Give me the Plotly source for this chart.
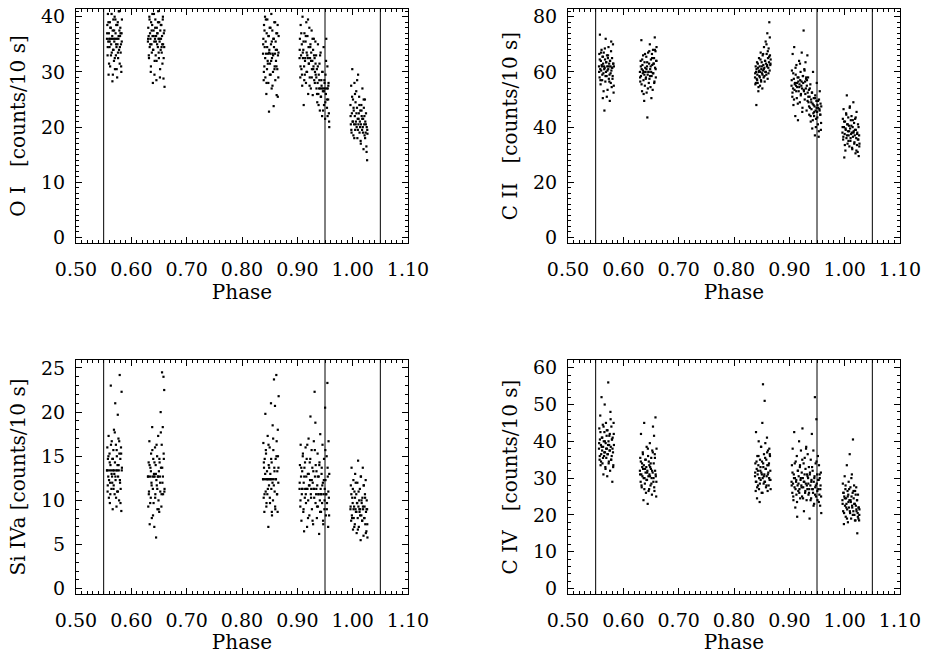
import plotly.graph_objects as go
from plotly.subplots import make_subplots

# phases of the five observing windows (shared by all four lines)
PH_A = [0.5560, 0.5566, 0.5571, 0.5577, 0.5583, 0.5589, 0.5594, 0.5600, 0.5606, 0.5612, 0.5617, 0.5623,
        0.5629, 0.5635, 0.5640, 0.5646, 0.5652, 0.5658, 0.5663, 0.5669, 0.5675, 0.5681, 0.5686, 0.5692,
        0.5698, 0.5704, 0.5709, 0.5715, 0.5721, 0.5727, 0.5732, 0.5738, 0.5744, 0.5750, 0.5755, 0.5761,
        0.5767, 0.5773, 0.5778, 0.5784, 0.5790, 0.5796, 0.5801, 0.5807, 0.5813, 0.5819, 0.5824, 0.5830,
        0.5563, 0.5574, 0.5586, 0.5597, 0.5609, 0.5620, 0.5632, 0.5643, 0.5655, 0.5666, 0.5678, 0.5689,
        0.5701, 0.5712, 0.5724, 0.5735, 0.5747, 0.5758, 0.5770, 0.5781, 0.5793, 0.5804, 0.5816, 0.5827]
PH_B = [0.6300, 0.6306, 0.6313, 0.6319, 0.6326, 0.6332, 0.6338, 0.6345, 0.6351, 0.6357, 0.6364, 0.6370,
        0.6377, 0.6383, 0.6389, 0.6396, 0.6402, 0.6409, 0.6415, 0.6421, 0.6428, 0.6434, 0.6440, 0.6447,
        0.6453, 0.6460, 0.6466, 0.6472, 0.6479, 0.6485, 0.6491, 0.6498, 0.6504, 0.6511, 0.6517, 0.6523,
        0.6530, 0.6536, 0.6543, 0.6549, 0.6555, 0.6562, 0.6568, 0.6574, 0.6581, 0.6587, 0.6594, 0.6600,
        0.6303, 0.6316, 0.6329, 0.6341, 0.6354, 0.6367, 0.6380, 0.6392, 0.6405, 0.6418, 0.6431, 0.6443,
        0.6456, 0.6469, 0.6482, 0.6494, 0.6507, 0.6520, 0.6533, 0.6546, 0.6558, 0.6571, 0.6584, 0.6597]
PH_C = [0.8380, 0.8386, 0.8392, 0.8398, 0.8404, 0.8410, 0.8416, 0.8422, 0.8428, 0.8434, 0.8440, 0.8446,
        0.8452, 0.8458, 0.8464, 0.8470, 0.8476, 0.8482, 0.8488, 0.8494, 0.8500, 0.8506, 0.8512, 0.8518,
        0.8524, 0.8530, 0.8536, 0.8542, 0.8548, 0.8554, 0.8560, 0.8566, 0.8572, 0.8578, 0.8584, 0.8590,
        0.8596, 0.8602, 0.8608, 0.8614, 0.8620, 0.8626, 0.8632, 0.8638, 0.8644, 0.8650, 0.8656, 0.8662,
        0.8383, 0.8395, 0.8407, 0.8419, 0.8431, 0.8443, 0.8455, 0.8467, 0.8479, 0.8491, 0.8503, 0.8515,
        0.8527, 0.8539, 0.8551, 0.8563, 0.8575, 0.8587, 0.8599, 0.8611, 0.8623, 0.8635, 0.8647, 0.8659]
PH_D = [0.9040, 0.9047, 0.9054, 0.9060, 0.9067, 0.9074, 0.9081, 0.9088, 0.9094, 0.9101,
        0.9108, 0.9115, 0.9122, 0.9128, 0.9135, 0.9142, 0.9149, 0.9156, 0.9162, 0.9169,
        0.9176, 0.9183, 0.9190, 0.9196, 0.9203, 0.9210, 0.9217, 0.9224, 0.9230, 0.9237,
        0.9244, 0.9251, 0.9258, 0.9264, 0.9271, 0.9278, 0.9285, 0.9292, 0.9298, 0.9305,
        0.9312, 0.9319, 0.9326, 0.9332, 0.9339, 0.9346, 0.9353, 0.9360, 0.9366, 0.9373,
        0.9380, 0.9387, 0.9394, 0.9400, 0.9407, 0.9414, 0.9421, 0.9428, 0.9434, 0.9441,
        0.9448, 0.9455, 0.9462, 0.9468, 0.9475, 0.9482, 0.9489, 0.9496, 0.9502, 0.9509,
        0.9516, 0.9523, 0.9530, 0.9536, 0.9543, 0.9550, 0.9557, 0.9564, 0.9570, 0.9577,
        0.9043, 0.9057, 0.9071, 0.9084, 0.9098, 0.9112, 0.9125, 0.9139, 0.9153, 0.9166, 0.9180,
        0.9193, 0.9207, 0.9221, 0.9234, 0.9248, 0.9261, 0.9275, 0.9289, 0.9302, 0.9316, 0.9329,
        0.9343, 0.9356, 0.9370, 0.9384, 0.9397, 0.9411, 0.9424, 0.9438, 0.9451, 0.9465,
        0.9479, 0.9492, 0.9506, 0.9519, 0.9533, 0.9547, 0.9560, 0.9574]
PH_E = [0.9960, 0.9967, 0.9973, 0.9980, 0.9986, 0.9993, 1.0000, 1.0006, 1.0013, 1.0019,
        1.0026, 1.0032, 1.0039, 1.0045, 1.0052, 1.0059, 1.0065, 1.0072, 1.0078, 1.0085,
        1.0091, 1.0098, 1.0104, 1.0111, 1.0117, 1.0124, 1.0130, 1.0137, 1.0144, 1.0150,
        1.0157, 1.0163, 1.0170, 1.0176, 1.0183, 1.0189, 1.0196, 1.0202, 1.0209, 1.0215,
        1.0222, 1.0228, 1.0235, 1.0241, 1.0248, 1.0254, 1.0261, 1.0267,
        0.9963, 0.9976, 0.9990, 1.0003, 1.0016, 1.0029, 1.0042, 1.0055, 1.0068, 1.0081, 1.0094, 1.0107,
        1.0121, 1.0134, 1.0147, 1.0160, 1.0173, 1.0186, 1.0199, 1.0212, 1.0225, 1.0238, 1.0251, 1.0264]

# O I count rates [counts/10 s]
OI_A = [36, 38.5, 33, 40.5, 35.5, 29.5, 37, 36, 34.5, 39, 31, 36, 38, 35, 42, 33.5,
        36, 28.3, 37.5, 34, 39.5, 36, 32, 35.5, 40, 30.5, 36, 37, 33, 38.5, 34.5, 36,
        29, 35, 39, 32.5, 36, 41, 34, 37.5, 31.5, 36.5, 38, 33.5, 35, 30, 37, 39.5,
        37, 34.5, 39, 31.5, 35.5, 38, 33, 40.5, 36.5, 29.5, 34, 37.5, 32.5, 39.5, 35, 30.5,
        38.5, 33.5, 36.5, 41, 34.5, 37, 31, 35.5]
OI_B = [35.5, 38, 36.5, 32.5, 40, 34.5, 37, 36, 30, 39, 35, 33.5, 38.5, 36.5, 28, 34,
        37.5, 40.5, 35.5, 32, 36, 39.5, 33, 36.5, 28.5, 38, 35, 37, 34.5, 41, 36, 32.5,
        39, 35.5, 29, 37.5, 34, 36, 38.5, 33.5, 36.5, 31.5, 39.5, 35, 28.8, 37, 34.5, 27.3,
        36, 33, 39.5, 35, 31, 37.5, 40.5, 34, 36.5, 29.5, 38, 35.5, 32, 37, 39, 33.5,
        36, 30.5, 38.5, 34.5, 35, 40, 32.5, 37.5]
OI_C = [33.3, 36, 28.5, 38.5, 31, 34.5, 40, 29, 35.5, 33.3, 26, 37, 30.5, 39.5, 32, 33.3,
        28, 36.5, 22.8, 34, 38, 31.5, 33.3, 29.5, 35, 40.5, 27, 32.5, 37.5, 33.3, 30, 36,
        23.8, 34.5, 39, 31, 33.3, 28.5, 35.5, 32, 37, 25.8, 34, 30.5, 38.5, 33, 29, 36.5,
        35, 30, 37.5, 32.5, 39.5, 28, 34.5, 31.5, 36.5, 33.5, 29.5, 38, 32, 35.5, 27.5, 33,
        36, 30.5, 39, 34, 31, 37, 25.5, 33.5]
OI_D = [32.5, 36, 29, 38.5, 33, 30.5, 35, 27.5, 40, 32.5, 34, 24, 31, 37, 29.5, 32.5,
        35.5, 28, 39, 33.5, 30, 36.5, 32.5, 26, 34.5, 31.5, 38, 29, 32.5, 35, 27, 33.5,
        37.5, 30.5, 32, 25.8, 34, 31, 36, 28.5, 32.5, 30, 35.5, 29.5,
        33, 27, 30.5, 24.5, 28, 35, 26, 29.5, 27, 31.5, 23, 27, 33.5, 25.5, 28.5, 27,
        22, 30, 26.5, 27, 34.5, 24, 28.5, 27, 21.5, 29.5, 26, 36, 27, 23.5, 31, 27,
        25, 28, 22.5, 20,
        34, 31, 37, 29.5, 33.5, 35.5, 28.5, 32, 36.5, 30, 33, 39.5, 31.5, 27.5, 34.5, 32,
        29, 36, 30.5, 33, 28, 31.5,
        29, 26, 31, 24, 28.5, 33, 25.5, 27.5, 30, 23, 26.5, 28, 24.5, 32, 25, 22, 27.5, 21]
OI_E = [24, 20.5, 27.5, 19, 22.5, 30.5, 21, 25, 18.5, 23, 20.5, 28, 22, 19.5, 24.5, 21,
        26.5, 20, 23.5, 18, 21.5, 29.5, 20.5, 22.5, 25.5, 19, 21, 23, 17.5, 20.5, 24, 22,
        19.5, 27, 20, 21.5, 16, 23.5, 20.5, 18.5, 25, 21, 19, 22.5, 16.5, 20, 14, 18.8,
        22, 19.5, 25.5, 21, 23.5, 18, 26, 20.5, 22.5, 28.5, 19.5, 21.5, 24, 20, 17, 23,
        21.5, 19, 25, 22, 18, 20.5, 15.5, 19.5]

# C II
CII_A = [62, 66.5, 58, 73.5, 61, 55.5, 64, 60.5, 68, 62, 57, 65.5, 50.5, 63, 59.5, 67,
         62, 46, 61.5, 64.5, 56.5, 72, 60, 63.5, 58.5, 66, 62, 53.5, 65, 61, 69, 57.5,
         63, 59, 49.5, 64, 62, 56, 67.5, 60.5, 54.5, 65, 61.5, 58.5, 70, 63, 52.5, 62,
         60, 64.5, 57, 67, 62.5, 59, 65.5, 53, 61, 68.5, 58.5, 63.5, 51, 60.5, 66, 62,
         56.5, 64, 59.5, 71, 61.5, 57.5, 63, 55]
CII_B = [60, 56.5, 64, 58.5, 71.5, 61, 53, 62.5, 59.5, 66, 57, 60, 49.5, 63.5, 55, 61.5,
         60, 58, 65.5, 52.5, 62, 43.5, 59, 67, 60, 56, 63, 57.5, 70, 61, 54.5, 64.5,
         60, 58.5, 66.5, 62.5, 53.5, 68, 59.5, 63, 65, 56.5, 72.5, 61.5, 67.5, 58, 64, 69,
         58, 62, 55.5, 64.5, 60.5, 52, 59, 66.5, 57.5, 61, 63.5, 54, 60, 67.5, 58.5, 62,
         50.5, 65, 59.5, 63, 56, 68, 61, 64]
CII_C = [58, 55.5, 62, 60, 48, 57.5, 63.5, 59, 56, 61.5, 53, 60, 65, 58.5, 62, 55,
         60, 67, 57, 61, 63.5, 59.5, 54, 66, 60.5, 62.5, 58, 69, 61.5, 56.5, 64, 60,
         71, 63, 59, 66.5, 62, 74, 57.5, 65, 61.5, 68.5, 63.5, 78, 60.5, 66, 62.5, 64.5,
         59.5, 56, 61, 57, 63, 54.5, 60.5, 58, 64.5, 56.5, 62, 59, 66.5, 61, 58.5, 64,
         60, 70, 62.5, 67.5, 59.5, 65.5, 72.5, 63]
CII_D = [55, 60.5, 51, 66.5, 54, 48, 57.5, 69, 53.5, 56, 44, 59, 55, 62.5, 50.5, 54.5,
         58, 42.5, 56.5, 53, 64, 55.5, 49, 57, 60, 52, 55, 67, 54, 47, 58.5, 56,
         75, 53, 61, 50, 56.5, 63.5, 54, 58, 46, 57, 66, 52.5,
         58, 49, 53.5, 44.5, 51, 47, 55.5, 42, 50, 46.5, 52.5, 39.5, 48.5, 60, 45, 50.5,
         44, 47.5, 37, 51.5, 46, 43, 49.5, 56, 45.5, 48, 41, 47, 36.5, 50, 46.5, 53,
         44.5, 48.5, 39, 47.5,
         57, 52.5, 59.5, 50, 55.5, 61.5, 53, 56, 48.5, 58, 54.5, 63, 51.5, 56.5, 45.5, 58.5,
         53.5, 60.5, 52, 57.5, 55, 49.5,
         51, 47.5, 54, 44, 49, 52.5, 42.5, 48, 45.5, 50.5, 40, 47, 43.5, 49.5, 38.5, 46, 44.5, 41.5]
CII_E = [38, 43, 35.5, 46.5, 40, 29, 37.5, 42, 31.5, 39, 45, 36, 51.5, 41, 34, 38.5,
         43.5, 37, 40.5, 33, 47, 39.5, 35, 42.5, 37.5, 44, 38, 32, 40, 36.5, 49, 38.5,
         41.5, 34.5, 37, 43, 30.5, 39, 36, 45.5, 33.5, 38, 31, 41, 35.5, 29.5, 37, 34,
         40, 36.5, 42, 33.5, 39.5, 44.5, 37, 41, 35, 38.5, 47.5, 36, 40.5, 32.5, 42.5, 38,
         34, 39, 43.5, 31.5, 37.5, 35.5, 40, 33]

# Si IVa
SI_A = [13.4, 16.0, 11.0, 14.7, 12.7, 17.3, 10.3, 13.4, 15.3, 9.7, 12.0, 14.0, 23.0, 13.4, 11.3, 16.7,
        12.7, 14.7, 9.0, 13.4, 15.7, 11.7, 18.0, 13.0, 10.7, 14.3, 21.0, 12.3, 16.3, 13.4, 9.3, 15.0,
        11.0, 14.0, 19.7, 12.7, 17.0, 13.4, 10.0, 15.3, 24.2, 12.0, 14.7, 11.3, 16.0, 8.8, 22.3, 13.7,
        13.4, 11.7, 15.0, 12.3, 14.3, 10.7, 16.3, 13.0, 12.0, 14.7, 11.3, 13.4, 17.7, 12.7, 10.3, 15.7,
        13.4, 11.0, 14.0, 16.7, 12.3, 9.7, 15.3, 13.4]
SI_B = [12.7, 9.3, 14.3, 11.0, 16.7, 7.3, 12.7, 13.7, 10.3, 15.3, 12.0, 8.0, 18.3, 12.7, 11.3, 14.7,
        9.7, 13.0, 7.0, 12.7, 16.0, 10.7, 14.0, 5.8, 12.3, 11.7, 15.0, 9.0, 12.7, 17.3, 10.0, 13.3,
        8.7, 14.3, 12.7, 11.0, 20.0, 13.7, 9.3, 16.3, 24.5, 12.0, 18.3, 10.7, 24.0, 14.7, 22.5, 11.3,
        12.7, 10.7, 14.0, 9.7, 13.3, 11.7, 15.7, 8.3, 12.7, 14.3, 10.3, 13.0, 16.3, 11.3, 12.7, 9.0,
        14.7, 12.0, 17.7, 10.7, 13.7, 12.7, 15.3, 11.0]
SI_C = [12.4, 16.5, 10.3, 13.7, 8.7, 14.7, 12.4, 19.8, 11.0, 15.3, 9.3, 12.4, 13.3, 10.7, 17.3, 12.4,
        7.0, 14.0, 11.7, 12.4, 16.0, 9.7, 13.0, 12.4, 21.0, 11.3, 14.3, 8.3, 12.4, 18.5, 10.0, 15.7,
        12.4, 23.7, 13.7, 11.0, 20.7, 9.0, 14.7, 12.4, 24.2, 16.7, 10.7, 13.3, 8.7, 15.0, 12.0, 21.8,
        12.4, 14.3, 10.7, 13.0, 15.7, 9.7, 12.4, 11.3, 16.3, 13.7, 10.3, 12.4, 14.7, 8.7, 12.0, 17.0,
        11.7, 13.3, 9.3, 12.4, 15.0, 10.7, 18.0, 13.7]
SI_D = [11.3, 14.0, 9.3, 16.3, 12.7, 7.7, 10.7, 13.3, 11.3, 15.3, 8.7, 12.0, 6.5, 13.7, 10.3, 11.3,
        16.0, 9.7, 12.7, 14.7, 7.0, 11.3, 13.0, 10.0, 17.0, 11.7, 8.3, 14.3, 12.3, 19.5, 10.7, 11.3,
        15.7, 9.0, 13.7, 12.0, 7.3, 11.3, 16.7, 10.3, 22.3, 12.7, 18.8, 14.0,
        10.7, 13.3, 8.0, 11.7, 15.3, 9.3, 10.7, 12.7, 6.2, 14.3, 10.0, 17.5, 11.3, 8.7, 10.7, 13.7,
        9.7, 16.3, 12.0, 7.3, 10.7, 14.7, 9.0, 11.3, 20.5, 12.3, 8.3, 10.7, 15.0, 9.7, 23.3, 12.7,
        7.0, 16.7, 10.3, 13.0,
        12.0, 10.0, 13.7, 11.3, 15.0, 9.0, 12.7, 14.3, 10.7, 11.3, 16.3, 8.0, 13.0, 11.7, 14.7, 10.3,
        12.3, 7.7, 13.3, 11.3, 15.7, 9.7,
        11.3, 9.3, 12.7, 10.7, 14.0, 8.7, 10.7, 13.0, 11.7, 7.7, 12.3, 10.0, 15.7, 10.7, 9.0, 13.7, 11.0, 8.3]
SI_E = [9.0, 11.7, 7.7, 13.7, 8.3, 10.3, 9.7, 6.7, 12.3, 8.0, 9.3, 11.0, 7.3, 13.0, 9.0, 8.7,
        10.7, 6.3, 9.7, 12.0, 8.0, 14.5, 9.3, 7.0, 10.0, 8.7, 11.3, 9.0, 5.5, 12.7, 8.3, 9.7,
        7.7, 10.3, 13.7, 9.0, 6.0, 11.7, 8.0, 9.3, 10.7, 7.3, 12.3, 8.7, 6.5, 10.0, 9.0, 5.8,
        9.3, 10.7, 8.0, 11.3, 9.0, 7.0, 10.3, 12.0, 8.7, 9.7, 6.7, 11.0, 9.0, 8.3, 12.7, 10.0,
        7.7, 9.3, 11.7, 8.0, 10.3, 6.3, 9.0, 7.3]

# C IV
CIV_A = [38, 43.5, 35, 40.5, 47, 33.5, 39, 36.5, 52, 41, 37.5, 34, 44.5, 38.5, 31, 40,
         36, 42.5, 50, 37, 33, 39.5, 45, 35.5, 41.5, 38, 30.5, 43, 36.5, 56, 40, 34.5,
         39, 37.5, 42, 32, 48, 38.5, 35, 44, 36, 40.5, 29, 41, 37, 33.5, 45, 39,
         39.5, 36, 42.5, 34.5, 38.5, 41, 35.5, 44, 37, 40, 32.5, 38, 43, 36.5, 39, 34,
         41.5, 37.5, 46, 35, 40.5, 38, 33, 42]
CIV_B = [32, 35.5, 29, 42, 31, 27.5, 34, 30.5, 37, 32.5, 24, 33.5, 45, 30, 28.5, 35,
         31.5, 26, 33, 38.5, 29.5, 32, 23, 36, 30.5, 34.5, 27, 31, 39.5, 33, 28, 32.5,
         35.5, 30, 25.5, 37.5, 31.5, 44, 29, 34, 41.5, 26.5, 36.5, 32, 46.5, 30.5, 25, 38,
         31, 34.5, 28, 33, 36.5, 30, 27, 32.5, 35, 29.5, 31.5, 38, 26.5, 33.5, 30.5, 34,
         28.5, 32, 37, 30, 27.5, 35.5, 31, 29]
CIV_C = [30.5, 34, 26.5, 42.5, 29, 32.5, 24.5, 36, 31, 28, 33.5, 40, 27, 30, 23.5, 35,
         32, 29.5, 38.5, 31.5, 26, 34.5, 45, 30, 55.5, 33, 28.5, 36.5, 31, 51, 29, 39.5,
         32.5, 27.5, 35, 30.5, 41, 33.5, 26.5, 37.5, 31.5, 28, 34, 38, 29.5, 36, 32, 27,
         31.5, 29, 34.5, 27.5, 32, 36, 30, 28.5, 33, 38.5, 31, 26, 34, 30.5, 29, 35.5,
         32.5, 28, 37, 31, 33.5, 30, 36.5, 29.5]
CIV_D = [29, 33.5, 26, 38, 28.5, 24, 31, 42.5, 27.5, 30, 22, 34.5, 29, 25.5, 36, 19.5,
         28, 32, 26.5, 30.5, 40, 27, 33, 24.5, 29.5, 37.5, 28, 31.5, 25, 43.5, 30, 27.5,
         34, 21, 29, 35.5, 26, 32.5, 28.5, 38.5, 24, 31, 27, 36.5,
         30, 25.5, 33, 27, 19, 31.5, 28, 35, 24.5, 29.5, 42, 27, 32, 26, 37.5, 29,
         23, 30.5, 52, 27.5, 34, 25, 46, 28.5, 31, 24, 36, 27, 29.5, 33.5, 25.5, 30,
         22.5, 28, 31.5, 20.5,
         28, 31.5, 25, 30, 34, 27, 29.5, 23.5, 32, 28.5, 26, 33.5, 30, 27.5, 35, 24.5,
         29, 31, 26.5, 38, 28, 30.5,
         28.5, 26, 31, 24, 29, 33, 27, 22.5, 30, 25.5, 28, 34.5, 26.5, 29.5, 23.5, 31, 27, 25]
CIV_E = [24, 28.5, 21, 26, 17.5, 25, 30.5, 22.5, 27, 19.5, 24.5, 23, 33.5, 21.5, 26.5, 18,
         25.5, 29, 22, 24, 36.5, 20.5, 27.5, 23.5, 19, 25, 31, 22, 26, 40.5, 21, 24.5,
         28, 20, 23, 26.5, 18.5, 22.5, 27.5, 21, 24, 15, 20.5, 25.5, 19, 22, 18.5, 21.5,
         23, 26, 20.5, 24.5, 28, 22, 19, 25, 23.5, 27, 21, 24, 30, 22.5, 20, 26.5,
         23, 18.5, 25.5, 21.5, 24, 19.5, 22, 20]

PHASES = [PH_A, PH_B, PH_C, PH_D, PH_E]
LINES = [
    ("O I\u00a0\u00a0\u00a0[counts/10 s]", [OI_A, OI_B, OI_C, OI_D, OI_E], [-1, 41.4], 10, 1),
    ("C II\u00a0\u00a0\u00a0[counts/10 s]", [CII_A, CII_B, CII_C, CII_D, CII_E], [-2, 82.8], 20, 2),
    ("Si IVa [counts/10 s]", [SI_A, SI_B, SI_C, SI_D, SI_E], [-0.6, 25.9], 5, 1),
    ("C IV\u00a0\u00a0\u00a0[counts/10 s]", [CIV_A, CIV_B, CIV_C, CIV_D, CIV_E], [-1.5, 62.1], 10, 2),
]
PHASE_MARKS = [0.55, 0.95, 1.05]

FONT = dict(family="DejaVu Serif", size=19, color="black")
TITLE_FONT = dict(family="DejaVu Serif", size=20, color="black")
W, H = 925, 654
XDOM = [[76 / W, 408 / W], [568 / W, 900 / W]]
YDOM = [[1 - 243 / H, 1 - 9 / H], [1 - 594 / H, 1 - 360 / H]]

fig = make_subplots(rows=2, cols=2)

for i, (label, groups, yrange, ydt, ymin_dt) in enumerate(LINES):
    row, col = i // 2 + 1, i % 2 + 1
    xs, ys = [], []
    for ph, vals in zip(PHASES, groups):
        for p, v in zip(ph, vals):
            xs.append(p)
            ys.append(v)
    fig.add_trace(go.Scatter(x=xs, y=ys, mode="markers",
                             marker=dict(symbol="square", size=2.2, color="black", line=dict(width=0)),
                             showlegend=False), row=row, col=col)
    for pm in PHASE_MARKS:
        fig.add_vline(x=pm, line=dict(color="black", width=1), row=row, col=col)

    fig.update_xaxes(range=[0.5, 1.1], dtick=0.1, tick0=0.5, tickformat=".2f",
                     ticks="inside", ticklen=6, tickcolor="black", tickwidth=1,
                     minor=dict(dtick=0.01, ticks="inside", ticklen=3, tickcolor="black"),
                     showline=True, linecolor="black", linewidth=1, mirror="allticks",
                     showgrid=False, zeroline=False, tickfont=FONT, ticklabelstandoff=9,
                     title=dict(text="Phase", font=TITLE_FONT, standoff=1), automargin=False,
                     domain=XDOM[col - 1], row=row, col=col)
    fig.update_yaxes(range=yrange, dtick=ydt, tick0=0,
                     ticks="inside", ticklen=6, tickcolor="black", tickwidth=1,
                     minor=dict(dtick=ymin_dt, ticks="inside", ticklen=3, tickcolor="black"),
                     showline=True, linecolor="black", linewidth=1, mirror="allticks",
                     showgrid=False, zeroline=False, tickfont=FONT, ticklabelstandoff=6,
                     title=dict(text=label, font=TITLE_FONT, standoff=10), automargin=False,
                     domain=YDOM[row - 1], row=row, col=col)

fig.update_layout(width=W, height=H, margin=dict(l=0, r=0, t=0, b=0),
                  paper_bgcolor="white", plot_bgcolor="white", font=FONT)

# the page body has a default 8px margin; drop it so the figure fills the window
fig.write_html("out.html", config={"displayModeBar": False},
               post_script="document.body.style.margin='0px';")
